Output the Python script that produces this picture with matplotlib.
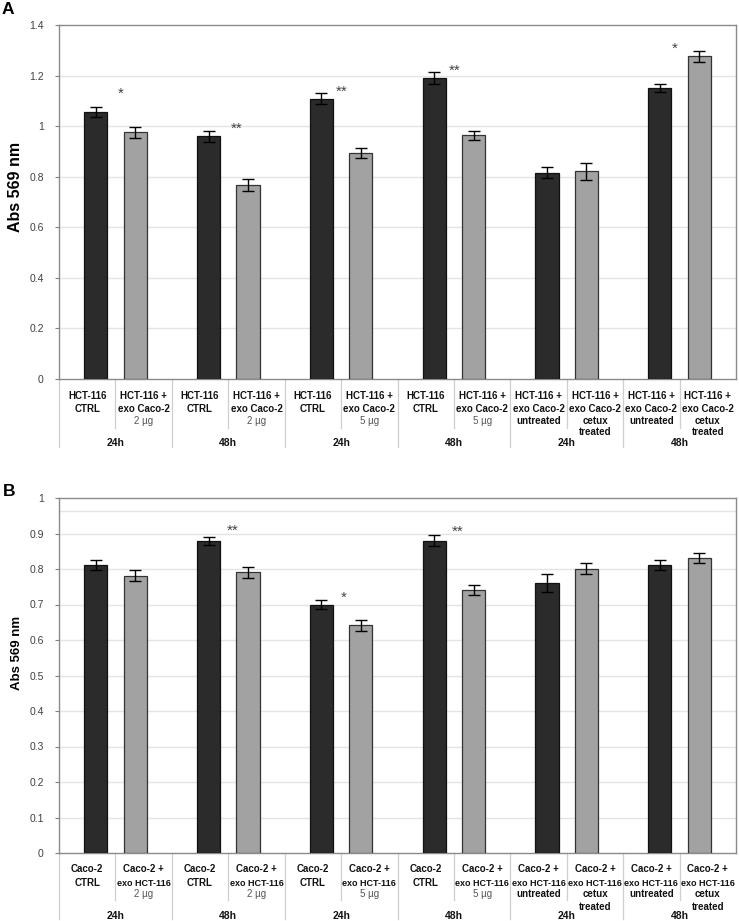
import matplotlib
matplotlib.use("Agg")
import matplotlib.pyplot as plt
from matplotlib.lines import Line2D
from matplotlib.transforms import ScaledTranslation

plt.rcParams['font.family'] = ['Liberation Sans', 'DejaVu Sans']

# Panel A: HCT-116 cells
a_ctrl = [1.056, 0.960, 1.108, 1.190, 0.816, 1.151]
a_ctrl_err = [0.020, 0.022, 0.022, 0.025, 0.022, 0.015]
a_exo = [0.975, 0.767, 0.895, 0.963, 0.821, 1.277]
a_exo_err = [0.020, 0.022, 0.020, 0.018, 0.034, 0.022]
a_labels = [
    ["HCT-116", "CTRL"], ["HCT-116 +", "exo Caco-2", "2 µg"],
    ["HCT-116", "CTRL"], ["HCT-116 +", "exo Caco-2", "2 µg"],
    ["HCT-116", "CTRL"], ["HCT-116 +", "exo Caco-2", "5 µg"],
    ["HCT-116", "CTRL"], ["HCT-116 +", "exo Caco-2", "5 µg"],
    ["HCT-116 +", "exo Caco-2", "untreated"], ["HCT-116 +", "exo Caco-2", "cetux", "treated"],
    ["HCT-116 +", "exo Caco-2", "untreated"], ["HCT-116 +", "exo Caco-2", "cetux", "treated"],
]
a_groups = ["24h", "48h", "24h", "48h", "24h", "48h"]
a_stars = ["*", "**", "**", "**", "", "*"]
a_star_y = [1.14, 1.00, 1.148, 1.231, None, 1.317]
a_star_dx = [0.10, 0.15, 0.01, 0.02, 0, -0.09]

# Panel B: Caco-2 cells
b_ctrl = [0.811, 0.880, 0.700, 0.880, 0.760, 0.811]
b_ctrl_err = [0.015, 0.011, 0.013, 0.015, 0.025, 0.015]
b_exo = [0.781, 0.791, 0.641, 0.741, 0.801, 0.831]
b_exo_err = [0.016, 0.016, 0.015, 0.013, 0.015, 0.015]
b_labels = [
    ["Caco-2", "CTRL"], ["Caco-2 +", "exo HCT-116", "2 µg"],
    ["Caco-2", "CTRL"], ["Caco-2 +", "exo HCT-116", "2 µg"],
    ["Caco-2", "CTRL"], ["Caco-2 +", "exo HCT-116", "5 µg"],
    ["Caco-2", "CTRL"], ["Caco-2 +", "exo HCT-116", "5 µg"],
    ["Caco-2 +", "exo HCT-116", "untreated"], ["Caco-2 +", "exo HCT-116", "cetux", "treated"],
    ["Caco-2 +", "exo HCT-116", "untreated"], ["Caco-2 +", "exo HCT-116", "cetux", "treated"],
]
b_groups = ["24h", "48h", "24h", "48h", "24h", "48h"]
b_stars = ["", "**", "*", "**", "", ""]
b_star_y = [None, 0.915, 0.727, 0.912, None, None]
b_star_dx = [0, 0.07, 0.04, 0.06, 0, 0]

W, H = 739, 921
fig = plt.figure(figsize=(W / 100, H / 100), dpi=100)


def px_rect(left, top, right, bottom):
    return [left / W, 1 - bottom / H, (right - left) / W, (bottom - top) / H]


def draw_panel(ax, ctrl, ctrl_err, exo, exo_err, labels, groups, stars, star_y, star_dx,
               ymax, ystep, extra_grid, line_off, grp_off, short_off, long_off, exo_size):
    n = len(ctrl)
    centers = [2 * i + 1 for i in range(n)]
    ax.bar([c - 0.35 for c in centers], ctrl, width=0.41, color="#2b2b2b",
           edgecolor="#111111", linewidth=0.9, zorder=3,
           yerr=ctrl_err, error_kw=dict(ecolor="black", elinewidth=1, capsize=4, capthick=1))
    ax.bar([c + 0.35 for c in centers], exo, width=0.41, color="#a2a2a2",
           edgecolor="#333333", linewidth=0.9, zorder=3,
           yerr=exo_err, error_kw=dict(ecolor="black", elinewidth=1, capsize=4, capthick=1))

    ax.set_xlim(0, 2 * n)
    ax.set_ylim(0, ymax)
    ticks = [round(i * ystep, 2) for i in range(int(round(ymax / ystep)) + 1)]
    ax.set_yticks(ticks)
    ax.set_yticklabels([f"{t:g}" for t in ticks])
    ax.set_xticks([])
    ax.tick_params(axis="y", length=3, width=0.8, color="#808080", pad=8,
                   labelsize=7.5, labelcolor="#404040")
    for t in ticks[1:-1] + extra_grid:
        ax.axhline(t, color="#e4e4e4", linewidth=1, zorder=1)
    for sp in ax.spines.values():
        sp.set_color("#8a8a8a")
        sp.set_linewidth(1)

    # significance stars (glyph sits high in the line, so anchor a bit lower)
    star_shift = ScaledTranslation(0, -3 / 100, fig.dpi_scale_trans)
    for i, s in enumerate(stars):
        if s:
            ax.text(centers[i] + star_dx[i], star_y[i], s, ha="center", va="center",
                    fontsize=11, color="#444444", zorder=4,
                    transform=ax.transData + star_shift)

    # category labels below the axis
    h_px = ax.get_position().height * H
    base = ax.get_xaxis_transform()
    for j, lines in enumerate(labels):
        for k, line in enumerate(lines):
            is_amount = "µg" in line
            size = exo_size if line.startswith("exo") else 7
            tr = base + ScaledTranslation(0, -line_off[k] / 100, fig.dpi_scale_trans)
            ax.text(j + 0.5, 0, line, transform=tr, ha="center", va="center",
                    fontsize=size, fontweight="normal" if is_amount else "bold",
                    color="#555555" if is_amount else "#111111", clip_on=False)
    for g, name in enumerate(groups):
        tr = base + ScaledTranslation(0, -grp_off / 100, fig.dpi_scale_trans)
        ax.text(2 * g + 1, 0, name, transform=tr, ha="center", va="center",
                fontsize=7.5, fontweight="bold", color="#111111", clip_on=False)

    # separators between categories and groups
    for xb in range(0, 2 * n):
        off = long_off if xb % 2 == 0 else short_off
        ax.add_line(Line2D([xb, xb], [0, -off / h_px], transform=base,
                           color="#cfcfcf", linewidth=0.9, clip_on=False))


axA = fig.add_axes(px_rect(59, 25, 736, 379))
draw_panel(axA, a_ctrl, a_ctrl_err, a_exo, a_exo_err, a_labels, a_groups,
           a_stars, a_star_y, a_star_dx, 1.4, 0.2, [],
           [17, 30, 42, 53], 64, 49, 68, 7)
axA.set_ylabel("Abs 569 nm", fontsize=11.5, fontweight="bold")
axA.yaxis.set_label_coords(-36 / 677, (379 - 187) / 354)

axB = fig.add_axes(px_rect(59, 498, 736, 853))
draw_panel(axB, b_ctrl, b_ctrl_err, b_exo, b_exo_err, b_labels, b_groups,
           b_stars, b_star_y, b_star_dx, 1.0, 0.1, [0.963],
           [16, 30, 41, 54], 63, 47, 66, 6.5)
axB.set_ylabel("Abs 569 nm", fontsize=9.5, fontweight="bold")
axB.yaxis.set_label_coords(-36 / 677, (853 - 653) / 355)

fig.text(2 / W, 1 - 9 / H, "A", fontsize=12.5, fontweight="bold", va="center", ha="left")
fig.text(3 / W, 1 - 491 / H, "B", fontsize=12.5, fontweight="bold", va="center", ha="left")

fig.savefig("out.png", dpi=100, facecolor="white")
